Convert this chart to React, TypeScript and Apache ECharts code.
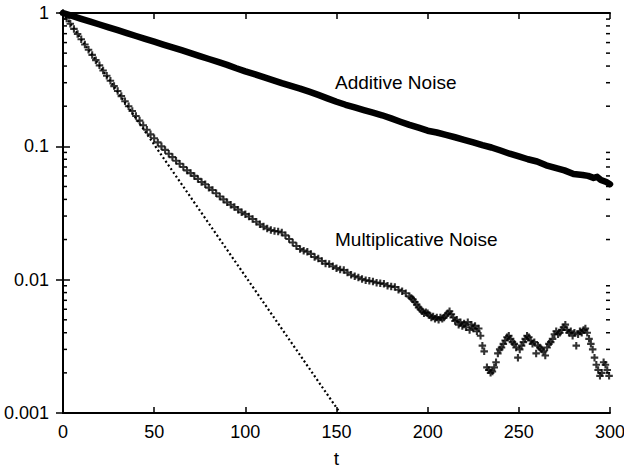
import React, { useEffect, useRef } from "react";
import * as echarts from "echarts";

// x-axis ticks
const xTicks = [0, 50, 100, 150, 200, 250, 300];
// y-axis (log) tick labels
const yTickLabels = ["0.001", "0.01", "0.1", "1"];
// minor ticks on the log axis
const yMinorTicks = [
  0.002, 0.003, 0.004, 0.005, 0.006, 0.007, 0.008, 0.009,
  0.02, 0.03, 0.04, 0.05, 0.06, 0.07, 0.08, 0.09,
  0.2, 0.3, 0.4, 0.5, 0.6, 0.7, 0.8, 0.9,
];

// Additive noise
const addT = [0, 5, 10, 15, 20, 25, 30, 35, 40, 45, 50, 55, 60, 65, 70, 75, 80, 85, 90, 95, 100, 105, 110, 115, 120, 125, 130, 135, 140, 145, 150, 155, 160, 165, 170, 175, 180, 185, 190, 195, 200, 205, 210, 215, 220, 225, 230, 235, 240, 245, 250, 255, 260, 265, 270, 275, 280, 285, 288, 291, 293, 295, 298, 300];
const addV = [1.0, 0.951, 0.905, 0.862, 0.82, 0.78, 0.743, 0.707, 0.672, 0.64, 0.61, 0.58, 0.553, 0.526, 0.5, 0.475, 0.452, 0.43, 0.408, 0.385, 0.365, 0.348, 0.33, 0.314, 0.298, 0.284, 0.271, 0.257, 0.243, 0.229, 0.216, 0.205, 0.196, 0.187, 0.179, 0.171, 0.162, 0.153, 0.145, 0.138, 0.131, 0.127, 0.122, 0.117, 0.112, 0.107, 0.102, 0.098, 0.093, 0.088, 0.084, 0.08, 0.077, 0.072, 0.069, 0.066, 0.062, 0.061, 0.06, 0.058, 0.059, 0.056, 0.054, 0.052];

// Multiplicative noise
const multT = [0, 2, 4, 6, 8, 10, 12, 14, 16, 18, 20, 22, 24, 26, 28, 30, 32, 34, 36, 38, 40, 42, 44, 46, 48, 50, 52, 54, 56, 58, 60, 62, 64, 66, 68, 70, 72, 74, 76, 78, 80, 82, 84, 86, 88, 90, 92, 94, 96, 98, 100, 102, 104, 106, 108, 110, 112, 114, 116, 118, 120, 122, 124, 126, 128, 130, 132, 134, 136, 138, 140, 142, 144, 146, 148, 150, 152, 154, 156, 158, 160, 162, 164, 166, 168, 170, 172, 174, 176, 178, 180, 182, 184, 186, 188, 190, 191, 192, 193, 194, 195, 196, 197, 198, 199, 200, 201, 202, 203, 204, 205, 206, 207, 208, 209, 210, 211, 212, 213, 214, 215, 216, 217, 218, 219, 220, 221, 222, 223, 224, 225, 226, 227, 228, 229, 230, 231, 232.5, 233.5, 234.5, 235.5, 236.5, 237.5, 238.5, 239.5, 240.5, 241.5, 242.5, 243.5, 244.5, 245.5, 246.5, 247.5, 248.5, 249.5, 250.5, 251.5, 252.5, 253.5, 254.5, 255.5, 256.5, 257.5, 258.5, 259.5, 260.5, 261.5, 262.5, 263.5, 264.5, 265.5, 266.5, 267.5, 268.5, 269.5, 270.5, 271.5, 272.5, 273.5, 274.5, 275.5, 276.5, 277.5, 278.5, 279.5, 280.5, 281.5, 282.5, 283.5, 284.5, 285.5, 286.5, 287.5, 288.5, 289.5, 290.5, 291.5, 292.5, 293.5, 294.5, 295.5, 296.5, 297.5, 298.5, 299.5];
const multV = [1.0, 0.91, 0.83, 0.76, 0.695, 0.635, 0.58, 0.53, 0.485, 0.443, 0.405, 0.37, 0.338, 0.31, 0.283, 0.26, 0.238, 0.218, 0.2, 0.184, 0.169, 0.156, 0.144, 0.133, 0.123, 0.115, 0.107, 0.1, 0.094, 0.088, 0.083, 0.078, 0.074, 0.07, 0.066, 0.063, 0.06, 0.057, 0.054, 0.052, 0.049, 0.047, 0.0445, 0.042, 0.04, 0.038, 0.0365, 0.035, 0.0335, 0.032, 0.031, 0.0298, 0.0285, 0.0272, 0.026, 0.025, 0.0242, 0.0236, 0.0232, 0.023, 0.0226, 0.0215, 0.0202, 0.019, 0.0179, 0.017, 0.0165, 0.0162, 0.0156, 0.0148, 0.0144, 0.0138, 0.0132, 0.0131, 0.0126, 0.0122, 0.0119, 0.0118, 0.0113, 0.0109, 0.0106, 0.0104, 0.0101, 0.0099, 0.0098, 0.0097, 0.0095, 0.0094, 0.0093, 0.009, 0.0089, 0.0088, 0.0084, 0.0082, 0.0079, 0.0075, 0.0073, 0.0071, 0.0068, 0.0065, 0.0062, 0.006, 0.0058, 0.0056, 0.0057, 0.0056, 0.0054, 0.0052, 0.0053, 0.0051, 0.0052, 0.005, 0.0052, 0.0051, 0.0052, 0.0054, 0.0056, 0.0058, 0.0055, 0.0052, 0.0049, 0.005, 0.0046, 0.0048, 0.0045, 0.0047, 0.0044, 0.0048, 0.0042, 0.0046, 0.0043, 0.0045, 0.0041, 0.0043, 0.0038, 0.0032, 0.0029, 0.0022, 0.0021, 0.002, 0.00205, 0.0022, 0.0024, 0.0028, 0.003, 0.0031, 0.0033, 0.0035, 0.0037, 0.0038, 0.0036, 0.0034, 0.0033, 0.0031, 0.0026, 0.003, 0.0032, 0.0034, 0.0036, 0.0038, 0.0037, 0.0035, 0.0033, 0.0034, 0.0028, 0.0032, 0.0031, 0.003, 0.0029, 0.0027, 0.0031, 0.0033, 0.0034, 0.0036, 0.0039, 0.0041, 0.0039, 0.004, 0.0042, 0.0044, 0.0046, 0.0042, 0.004, 0.0041, 0.0038, 0.004, 0.0032, 0.0039, 0.0041, 0.004, 0.0042, 0.0043, 0.004, 0.0036, 0.0033, 0.003, 0.0026, 0.0023, 0.0021, 0.0019, 0.002, 0.0024, 0.0023, 0.0021, 0.0019];

// Pure exponential (dotted) reference line
const expT = [0, 152];
const expV = [1, 0.001];

const FONT = "Liberation Sans";
const PLUS = "path://M3.6,0H6.4V3.6H10V6.4H6.4V10H3.6V6.4H0V3.6H3.6Z";

export default function App() {
  const ref = useRef<HTMLDivElement>(null);
  useEffect(() => {
    if (!ref.current) return;
    const chart = echarts.init(ref.current, null, { renderer: "svg" });
    const fmtY = (v: number) => {
      const s = String(parseFloat(v.toPrecision(3)));
      return yTickLabels.includes(s) ? s : "";
    };
    const axisCommon = {
      axisLine: { show: true, lineStyle: { color: "#000", width: 2 } },
      splitLine: { show: false },
    };
    chart.setOption({
      animation: false,
      backgroundColor: "#fff",
      grid: { left: 63, right: 14, top: 13, bottom: 59, containLabel: false, outerBoundsMode: "none" },
      xAxis: [
        {
          type: "value", min: xTicks[0], max: xTicks[xTicks.length - 1], interval: 50,
          position: "bottom",
          ...axisCommon,
          axisTick: { show: true, inside: true, length: 6, lineStyle: { color: "#000", width: 1.5 } },
          axisLabel: { color: "#000", fontSize: 18, fontFamily: FONT, margin: 10 },
          name: "t", nameLocation: "middle", nameGap: 36,
          nameTextStyle: { color: "#000", fontSize: 19, fontFamily: FONT },
        },
        {
          type: "value", min: xTicks[0], max: xTicks[xTicks.length - 1], interval: 50,
          position: "top",
          ...axisCommon,
          axisTick: { show: true, inside: true, length: 6, lineStyle: { color: "#000", width: 1.5 } },
          axisLabel: { show: false },
        },
      ],
      yAxis: [
        {
          type: "log", logBase: 10, min: 0.001, max: 1, position: "left",
          ...axisCommon,
          axisTick: { show: true, inside: true, length: 7, lineStyle: { color: "#000", width: 1.5 } },
          axisLabel: { color: "#000", fontSize: 18, fontFamily: FONT, margin: 14, formatter: fmtY },
        },
        {
          type: "log", logBase: 10, min: 0.001, max: 1, position: "right",
          ...axisCommon,
          axisTick: { show: true, inside: true, length: 7, lineStyle: { color: "#000", width: 1.5 } },
          axisLabel: { show: false },
        },
      ],
      graphic: [
        {
          type: "text", x: 335, y: 82,
          style: { text: "Additive Noise", fill: "#000", fontSize: 19, fontFamily: FONT, align: "left", verticalAlign: "middle" },
        },
        {
          type: "text", x: 335, y: 239,
          style: { text: "Multiplicative Noise", fill: "#000", fontSize: 19, fontFamily: FONT, align: "left", verticalAlign: "middle" },
        },
      ],
      series: [
        {
          type: "custom",
          xAxisIndex: 0, yAxisIndex: 0,
          silent: true,
          clip: false,
          data: yMinorTicks.map((v) => [0, v]),
          renderItem: (params: any, api: any) => {
            const v = api.value(1);
            const l = api.coord([xTicks[0], v]);
            const r = api.coord([xTicks[xTicks.length - 1], v]);
            return {
              type: "group",
              children: [
                { type: "line", shape: { x1: l[0], y1: l[1], x2: l[0] + 4, y2: l[1] }, style: { stroke: "#000", lineWidth: 1.5 } },
                { type: "line", shape: { x1: r[0] - 4, y1: r[1], x2: r[0], y2: r[1] }, style: { stroke: "#000", lineWidth: 1.5 } },
              ],
            };
          },
        },
        {
          name: "Exponential",
          type: "line",
          data: expT.map((t, i) => [t, expV[i]]),
          showSymbol: false,
          symbol: "none",
          lineStyle: { color: "#000", width: 2.2, type: [2, 2.5] },
        },
        {
          name: "Additive Noise",
          type: "line",
          data: addT.map((t, i) => [t, addV[i]]),
          showSymbol: false,
          symbol: "none",
          clip: false,
          lineStyle: { color: "#000", width: 6.5, cap: "round", join: "round" },
        },
        {
          name: "Multiplicative Noise",
          type: "scatter",
          data: multT.map((t, i) => [t, multV[i]]),
          symbol: PLUS,
          symbolSize: 7.5,
          clip: false,
          itemStyle: { color: "#000" },
        },
      ],
    });
    return () => chart.dispose();
  }, []);
  return <div ref={ref} style={{ position: "fixed", left: 0, top: 0, width: 624, height: 472 }} />;
}
